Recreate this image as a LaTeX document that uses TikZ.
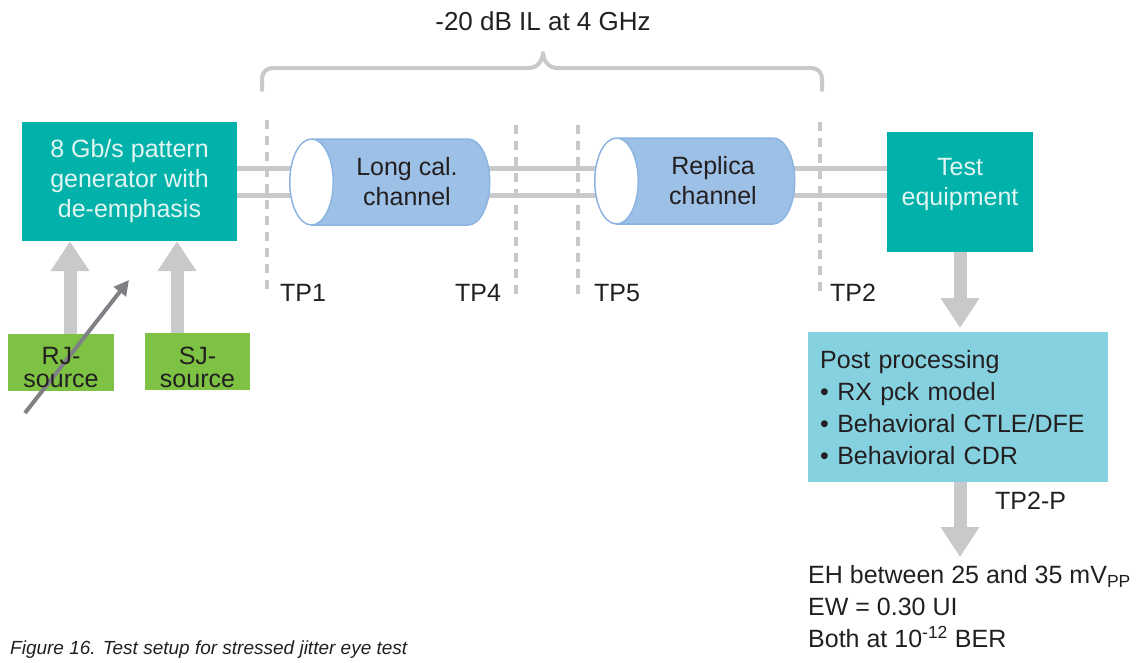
\documentclass[tikz,border=0pt]{standalone}
\usepackage{fontspec}
\setmainfont{Liberation Sans}
\usetikzlibrary{shapes.geometric,arrows.meta,calc,backgrounds}
\definecolor{teal}{HTML}{00B2A9}
\definecolor{boxtxt}{HTML}{E3F5F2}
\definecolor{grn}{HTML}{7DC242}
\definecolor{postblue}{HTML}{86D1DF}
\definecolor{cylblue}{HTML}{9DC0E6}
\definecolor{cylline}{HTML}{8BB5E0}
\definecolor{lgray}{HTML}{C8C9CB}
\definecolor{dgray}{HTML}{808184}
\definecolor{txt}{HTML}{231F20}
\begin{document}
\begin{tikzpicture}[x=1pt,y=-1pt,
  every node/.style={font=\fontsize{25}{30}\selectfont, text=txt, inner sep=0pt},
  tealbox/.style={fill=teal, text=boxtxt, align=center},
  srcbox/.style={fill=grn},
  srctext/.style={align=center, font=\fontsize{25}{23}\selectfont},
  cyl/.style={shape=cylinder, shape border rotate=180, aspect=0.9,
    cylinder uses custom fill, cylinder body fill=cylblue, cylinder end fill=white,
    draw=cylline, line width=1.5pt, minimum width=86pt, minimum height=200pt,
    align=center},
  wire/.style={draw=lgray, line width=5pt},
  tpline/.style={draw=lgray, line width=4pt, dash pattern=on 9pt off 7pt},
  bigarrow/.style={draw=lgray, line width=13pt, -{Triangle[width=37pt,length=30pt]}},
  label/.style={anchor=west}
]
\useasboundingbox (0,0) rectangle (1142,662);

% top label and brace
\node (il) at (543,21) {\fontsize{26}{30}\selectfont -20 dB IL at 4 GHz};
\draw[lgray, line width=4pt, line cap=round, line join=round]
  (262,90) -- (262,80) .. controls (262,72) and (266,68) .. (274,68)
  -- (528,68) .. controls (537,68) and (542,62) .. (543,53)
  .. controls (544,62) and (549,68) .. (558,68)
  -- (810,68) .. controls (818,68) and (822,72) .. (822,80) -- (822,90);

% nodes
\node[tealbox, minimum width=215pt, minimum height=119pt] (pg) at (129.5,181.5)
  {8 Gb/s pattern\\generator with\\de-emphasis};
\node[fill=teal, minimum width=146pt, minimum height=120pt] (te) at (960,192) {};
\node[text=boxtxt, align=center] (tetext) at (960,184) {Test\\equipment};

\coordinate (ya) at (0,168);
\coordinate (yb) at (0,195);
\draw[wire] (pg.east |- ya) -- (te.west |- ya);
\draw[wire] (pg.east |- yb) -- (te.west |- yb);

% test point dashed lines
\coordinate (d1a) at (267,120); \coordinate (d1b) at (267,290);
\coordinate (d4a) at (516,125); \coordinate (d4b) at (516,298);
\coordinate (d5a) at (578,125); \coordinate (d5b) at (578,298);
\coordinate (d2a) at (820,122); \coordinate (d2b) at (820,292);
\draw[tpline] (d1a) -- (d1b);
\draw[tpline] (d4a) -- (d4b);
\draw[tpline] (d5a) -- (d5b);
\draw[tpline] (d2a) -- (d2b);

\node[cyl] (c1) at (401,182) {\hspace*{12pt}Long cal.\\\hspace*{12pt}channel};
\node[cyl] (c2) at (706,181) {\hspace*{14pt}Replica\\\hspace*{14pt}channel};

\node[label] (tp1) at (280,293) {TP1};
\node[label] (tp4) at (455,293) {TP4};
\node[label] (tp5) at (594,293) {TP5};
\node[label] (tp2) at (830,293) {TP2};

% sources
\coordinate (ax1) at (70,0);
\coordinate (ax2) at (177,0);
\node[srcbox, minimum width=106pt, minimum height=57pt] (rj) at (61,362.5) {};
\node[srcbox, minimum width=105pt, minimum height=57pt] (sj) at (197.5,361.5) {};

\begin{scope}[on background layer]
\draw[bigarrow] (rj.north -| ax1) -- (pg.south -| ax1);
\draw[bigarrow] (sj.north -| ax2) -- (pg.south -| ax2);
\end{scope}

\coordinate (vj1) at (25,413);
\coordinate (vj2) at (129,280);
\draw[dgray, line width=4pt, -{Triangle[width=15pt,length=15pt]}] (vj1) -- (vj2);

\node[srctext] (rjtext) at (61,368) {RJ-\\source};
\node[srctext] (sjtext) at (197.5,367) {SJ-\\source};

% post processing
\node[fill=postblue, minimum width=300pt, minimum height=150pt, anchor=north west,
      align=left, text width=300pt] (pp) at (808,332)
  {\hspace*{12pt}\parbox{282pt}{\fontsize{25}{32}\selectfont Post processing\\
   \textbullet\ RX pck model\\ \textbullet\ Behavioral CTLE/DFE\\ \textbullet\ Behavioral CDR}};
\draw[bigarrow] (te.south) -- ($(te.south |- pp.north)+(0,-4)$);

\node[anchor=north west, align=left, font=\fontsize{25}{32}\selectfont] (res) at (808,565)
  {EH between 25 and 35 mV\textsubscript{PP}\\
   EW = 0.30 UI\\
   Both at 10\textsuperscript{-12} BER};
\draw[bigarrow] (pp.south -| te.south) -- ($(res.north -| te.south)+(0,-8)$);
\node[label] (tp2p) at (995,501) {TP2-P};

% caption
\node[anchor=west, font=\fontsize{19}{22}\selectfont\itshape] (cap) at (10,650)
  {Figure 16. Test setup for stressed jitter eye test};
\end{tikzpicture}
\end{document}
